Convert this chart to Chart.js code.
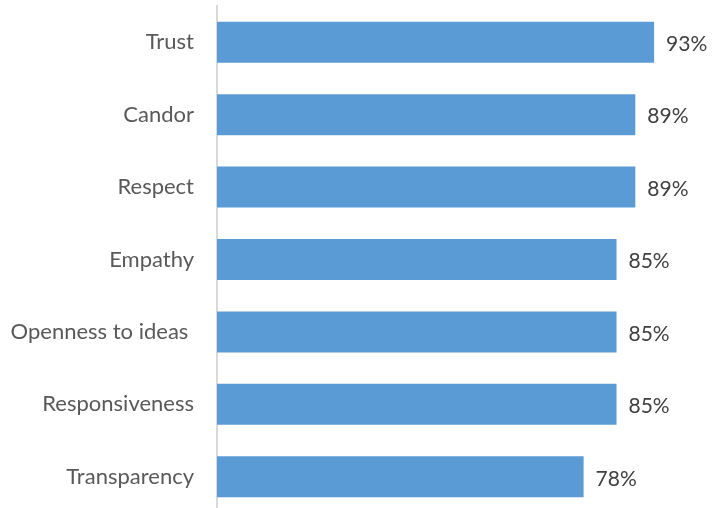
<!DOCTYPE html>
<html>
<head>
<meta charset="utf-8">
<script src="https://cdn.jsdelivr.net/npm/chart.js@4/dist/chart.umd.min.js"></script>
<style>
  html, body { margin: 0; padding: 0; background: #fff; overflow: hidden; }
  #wrap { position: relative; width: 715px; height: 513px; }
</style>
</head>
<body>
<div id="wrap"><canvas id="chart"></canvas></div>
<script>
var categories = ["Trust", "Candor", "Respect", "Empathy", "Openness to ideas ", "Responsiveness", "Transparency"];
var values = [93, 89, 89, 85, 85, 85, 78];

// value labels to the right of each bar
var barLabels = {
  id: 'barLabels',
  afterDatasetsDraw: function (chart) {
    var ctx = chart.ctx;
    var meta = chart.getDatasetMeta(0);
    ctx.save();
    ctx.font = '21px Lato';
    ctx.fillStyle = '#404040';
    ctx.textAlign = 'left';
    ctx.textBaseline = 'middle';
    meta.data.forEach(function (bar, i) {
      ctx.fillText(values[i] + '%', bar.x + 12, bar.y + 2);
    });
    ctx.restore();
  }
};

new Chart(document.getElementById('chart'), {
  type: 'bar',
  data: {
    labels: categories,
    datasets: [{
      data: values,
      backgroundColor: '#5B9BD5',
      borderWidth: 0,
      categoryPercentage: 1,
      barPercentage: 0.566
    }]
  },
  options: {
    indexAxis: 'y',
    responsive: true,
    maintainAspectRatio: false,
    animation: false,
    layout: { padding: { top: 6, right: 28, bottom: 0, left: 0 } },
    plugins: {
      legend: { display: false },
      tooltip: { enabled: false }
    },
    scales: {
      x: {
        display: false,
        min: 0,
        max: 100
      },
      y: {
        afterFit: function (scale) {
          scale.width = 217;
          scale.paddingTop = 0;
          scale.paddingBottom = 0;
        },
        grid: { display: false, drawTicks: false },
        border: { display: true, color: '#d9d9d9', width: 2 },
        ticks: {
          padding: 23,
          color: '#595959',
          font: { family: 'Lato', size: 22 }
        }
      }
    }
  },
  plugins: [barLabels]
});
</script>
</body>
</html>
